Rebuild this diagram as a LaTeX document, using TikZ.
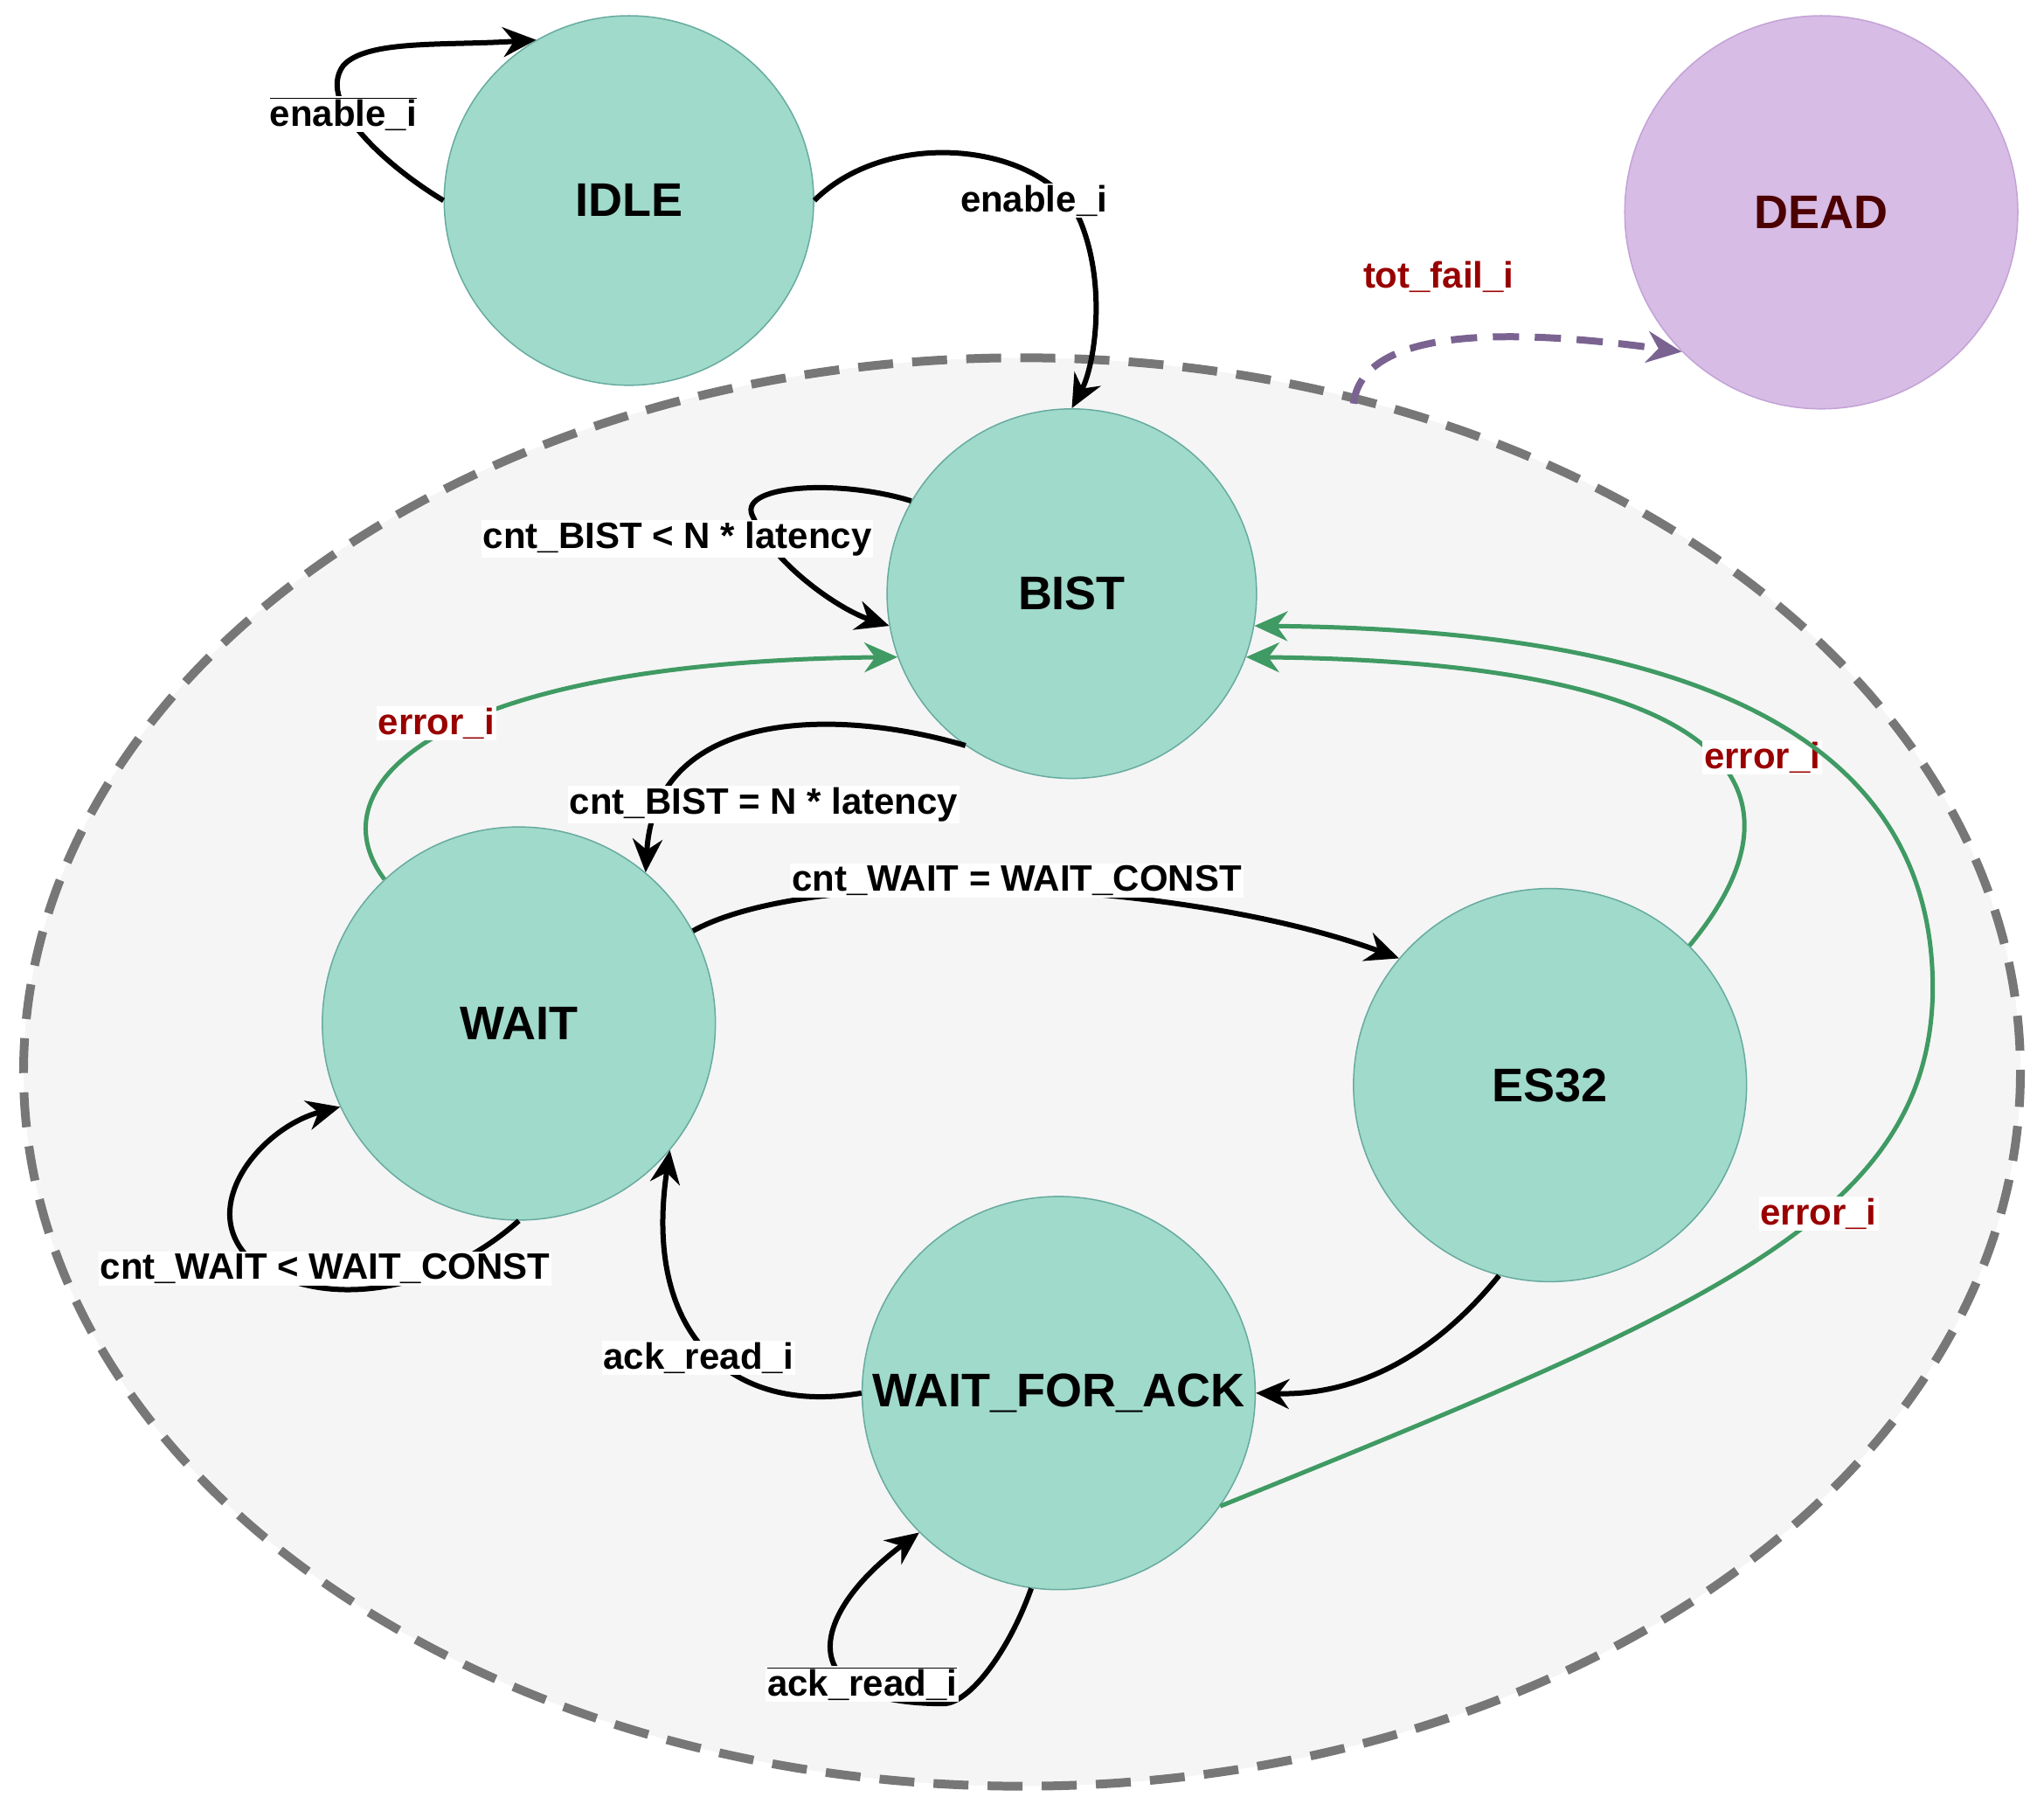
\documentclass[tikz,border=0pt]{standalone}
\usepackage{fontspec}
\setmainfont{Liberation Sans}
\usetikzlibrary{arrows.meta}
\definecolor{nfill}{HTML}{A0DACB}
\definecolor{nline}{HTML}{67AB9F}
\definecolor{dfill}{HTML}{D7BCE5}
\definecolor{dline}{HTML}{C3A3D6}
\definecolor{red9}{HTML}{990000}
\definecolor{grn}{HTML}{3F9A63}
\definecolor{purp}{HTML}{7A6391}
\definecolor{dgray}{HTML}{777777}
\begin{document}
\begin{tikzpicture}[x=1.5pt,y=-1.5pt,
  st/.style={circle,fill=nfill,draw=nline,line width=1.5pt,inner sep=0pt,font=\fontsize{54}{60}\selectfont\bfseries},
  lab/.style={fill=white,inner sep=2pt,font=\fontsize{42}{46}\selectfont\bfseries},
  rlab/.style={lab,text=red9},
  ed/.style={line width=6pt,-{Stealth[length=38pt,width=34pt]}},
  ged/.style={line width=5pt,draw=grn,-{Stealth[length=38pt,width=34pt]}}]
\useasboundingbox (0,0) rectangle (1560,1376);
\fill[gray!8] (780,818) ellipse [x radius=762,y radius=545];
\draw[line width=10pt,draw=dgray,dash pattern=on 40pt off 22pt] (780,818) ellipse [x radius=762,y radius=545];
\node[st,minimum size=423pt] (idle) at (480,153) {IDLE};
\node[circle,fill=dfill,draw=dline,line width=1.5pt,minimum size=450pt,text=red9!50!black,font=\fontsize{54}{60}\selectfont\bfseries] (dead) at (1390,162) {DEAD};
\node[st,minimum size=423pt] (bist) at (818,453) {BIST};
\node[st,minimum size=450pt] (wait) at (396,781) {WAIT};
\node[st,minimum size=450pt] (es) at (1183,828) {ES32};
\node[st,minimum size=450pt] (wfa) at (808,1063) {WAIT\_FOR\_ACK};
% IDLE self loop
\draw[ed] (idle.west) .. controls (300,130) and (240,80) .. (262,50) .. controls (280,30) and (340,35) .. (idle.120);
\node[lab] (l1) at (262,87) {$\overline{\mbox{enable\_i}}$};
% IDLE -> BIST
\draw[ed] (idle.east) .. controls (680,95) and (800,110) .. (825,170) .. controls (845,220) and (835,280) .. (bist.north);
\node[lab] (l2) at (789,153) {enable\_i};
% BIST self loop
\draw[ed] (bist.150) .. controls (640,365) and (560,370) .. (575,395) .. controls (590,430) and (640,465) .. (bist.190);
\node[lab] (l3) at (517,411) {cnt\_BIST < N * latency};
% BIST -> WAIT
\draw[ed] (bist.235) .. controls (640,540) and (500,540) .. (wait.50);
\node[lab] (l4) at (583,614) {cnt\_BIST = N * latency};
% WAIT -> ES32
\draw[ed] (wait.28) .. controls (620,660) and (900,670) .. (es.140);
\node[lab] (l5) at (776,672) {cnt\_WAIT = WAIT\_CONST};
% WAIT self loop
\draw[ed] (wait.270) .. controls (330,990) and (240,1000) .. (190,960) .. controls (150,920) and (200,860) .. (wait.205);
\node[lab] (l6) at (248,968) {cnt\_WAIT < WAIT\_CONST};
% WFA -> WAIT
\draw[ed] (wfa.west) .. controls (560,1080) and (490,1020) .. (wait.-40);
\node[lab] (l7) at (533,1036) {ack\_read\_i};
% ES32 -> WFA
\draw[ed] (es.255) .. controls (1090,1040) and (1030,1065) .. (wfa.east);
% WFA self loop
\draw[ed] (wfa.262) .. controls (770,1260) and (740,1300) .. (720,1300) .. controls (600,1300) and (620,1230) .. (wfa.225);
\node[lab] (l8) at (658,1285) {$\overline{\mbox{ack\_read\_i}}$};
% green edges
\draw[ged] (wait.133) .. controls (240,600) and (330,505) .. (bist.200);
\node[rlab] (g1) at (333,552) {error\_i};
\draw[ged] (es.45) .. controls (1390,600) and (1320,505) .. (bist.-20);
\node[rlab] (g2) at (1345,578) {error\_i};
\draw[ged] (wfa.-35) .. controls (1300,1000) and (1470,930) .. (1475,760) .. controls (1480,520) and (1200,480) .. (bist.-10);
\node[rlab] (g3) at (1388,926) {error\_i};
% tot fail
\coordinate (tf) at (1033,308);
\draw[line width=8pt,draw=purp,dash pattern=on 30pt off 18pt,-{Stealth[length=40pt,width=36pt]}] (tf) .. controls (1040,250) and (1150,250) .. (dead.225);
\node[rlab] (g4) at (1098,211) {tot\_fail\_i};
\end{tikzpicture}
\end{document}
